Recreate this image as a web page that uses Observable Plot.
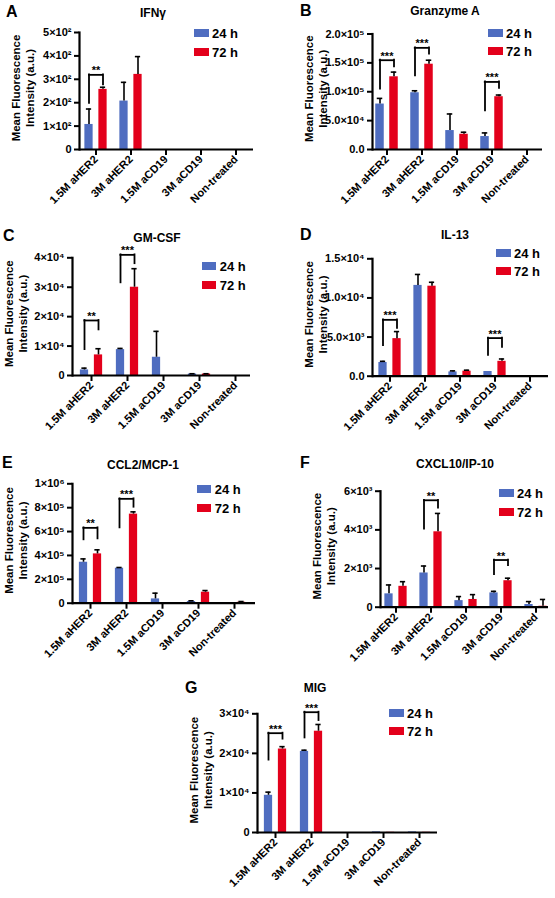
<!DOCTYPE html>
<html><head><meta charset="utf-8">
<script src="https://cdn.jsdelivr.net/npm/d3@7"></script>
<script src="https://cdn.jsdelivr.net/npm/@observablehq/plot@0.6"></script>
<style>
body{margin:0;background:#fff;}
#wrap{position:relative;width:555px;height:898px;background:#fff;font-family:"Liberation Sans",Arial,sans-serif;font-weight:bold;color:#000;overflow:hidden;}
.abs{position:absolute;white-space:nowrap;line-height:1;}
</style></head><body><div id="wrap"></div>
<script>
// ---------- data ----------
const categories = ["1.5M aHER2", "3M aHER2", "1.5M aCD19", "3M aCD19", "Non-treated"];
const timepoints = ["24 h", "72 h"];

// A: IFNγ
const ifng24 = [107, 207, 0, 0, 0];
const ifng24Err = [66, 80, 0, 0, 0];
const ifng72 = [257, 321, 0, 0, 0];
const ifng72Err = [9, 76, 0, 0, 0];
const ifngSig = [{cat: "1.5M aHER2", left: 197, right: 276, top: 319, label: "**"}];
const ifngTicks = [0, 100, 200, 300, 400, 500];
const ifngTickLabels = ["0", "1×10²", "2×10²", "3×10²", "4×10²", "5×10²"];

// B: Granzyme A
const gzm24 = [78700, 98300, 32800, 22400, 0];
const gzm24Err = [9800, 3400, 28700, 6300, 0];
const gzm72 = [125900, 147700, 26400, 91400, 0];
const gzm72Err = [8100, 6900, 3500, 2900, 0];
const gzmSig = [
  {cat: "1.5M aHER2", left: 104600, right: 143000, top: 154600, label: "***"},
  {cat: "3M aHER2", left: 127600, right: 165000, top: 176000, label: "***"},
  {cat: "3M aCD19", left: 67000, right: 105700, top: 117000, label: "***"}
];
const gzmTicks = [0, 50000, 100000, 150000, 200000];
const gzmTickLabels = ["0.0", "5.0×10⁴", "1.0×10⁵", "1.5×10⁵", "2.0×10⁵"];

// C: GM-CSF
const gmcsf24 = [1900, 8800, 6200, 500, 0];
const gmcsf24Err = [600, 400, 8800, 100, 0];
const gmcsf72 = [7000, 30000, 0, 500, 0];
const gmcsf72Err = [2100, 6300, 0, 100, 0];
const gmcsfSig = [
  {cat: "1.5M aHER2", left: 8800, right: 15500, top: 18700, label: "**"},
  {cat: "3M aHER2", left: 31500, right: 38000, top: 41000, label: "***"}
];
const gmcsfTicks = [0, 10000, 20000, 30000, 40000];
const gmcsfTickLabels = ["0", "1×10⁴", "2×10⁴", "3×10⁴", "4×10⁴"];

// D: IL-13
const il13_24 = [1750, 11600, 550, 600, 0];
const il13_24Err = [150, 1400, 130, 0, 0];
const il13_72 = [4800, 11500, 640, 1900, 0];
const il13_72Err = [900, 500, 130, 300, 0];
const il13Sig = [
  {cat: "1.5M aHER2", left: 3900, right: 6100, top: 7200, label: "***"},
  {cat: "3M aCD19", left: 2650, right: 3700, top: 4870, label: "***"}
];
const il13Ticks = [0, 5000, 10000, 15000];
const il13TickLabels = ["0.0", "5.0×10³", "1.0×10⁴", "1.5×10⁴"];

// E: CCL2/MCP-1
const ccl2_24 = [343000, 293000, 36000, 14000, 3000];
const ccl2_24Err = [28000, 6000, 48000, 6000, 0];
const ccl2_72 = [413000, 746000, 0, 92000, 8000];
const ccl2_72Err = [34000, 19000, 0, 14000, 6000];
const ccl2Sig = [
  {cat: "1.5M aHER2", left: 531000, right: 539000, top: 631000, label: "**"},
  {cat: "3M aHER2", left: 631000, right: 804000, top: 874000, label: "***"}
];
const ccl2Ticks = [0, 200000, 400000, 600000, 800000, 1000000];
const ccl2TickLabels = ["0", "2×10⁵", "4×10⁵", "6×10⁵", "8×10⁵", "1×10⁶"];

// F: CXCL10/IP-10
const cxcl10_24 = [690, 1770, 340, 740, 140];
const cxcl10_24Err = [460, 360, 210, 80, 150];
const cxcl10_72 = [1080, 3900, 400, 1370, 50];
const cxcl10_72Err = [240, 950, 250, 130, 350];
const cxcl10Sig = [
  {cat: "3M aHER2", left: 4040, right: 5120, top: 5530, label: "**"},
  {cat: "3M aCD19", left: 1680, right: 2150, top: 2440, label: "**"}
];
const cxcl10Ticks = [0, 2000, 4000, 6000];
const cxcl10TickLabels = ["0", "2×10³", "4×10³", "6×10³"];

// G: MIG
const mig24 = [9400, 20500, 0, 150, 150];
const mig24Err = [800, 300, 0, 0, 0];
const mig72 = [21100, 25600, 0, 50, 50];
const mig72Err = [600, 1700, 0, 0, 0];
const migSig = [
  {cat: "1.5M aHER2", left: 18300, right: 23600, top: 25100, label: "***"},
  {cat: "3M aHER2", left: 23900, right: 28300, top: 30400, label: "***"}
];
const migTicks = [0, 10000, 20000, 30000];
const migTickLabels = ["0", "1×10⁴", "2×10⁴", "3×10⁴"];

// ---------- layout / style ----------
const BLUE = "#4f6dc0", RED = "#e3001b";
const FONT = "'Liberation Sans', Arial, sans-serif";

const panels = [
  {letter: "A", title: "IFNγ", v24: ifng24, e24: ifng24Err, v72: ifng72, e72: ifng72Err, sig: ifngSig, ticks: ifngTicks, tickLabels: ifngTickLabels,
   box: [0, 0, 277, 225], axisX: 79, axisEnd: 253, yTop: 32, yZero: 149, c0: 94, bw: 35.75, titleXY: [153, 13], letterXY: [6, 12], legendXY: [194, 33]},
  {letter: "B", title: "Granzyme A", v24: gzm24, e24: gzm24Err, v72: gzm72, e72: gzm72Err, sig: gzmSig, ticks: gzmTicks, tickLabels: gzmTickLabels,
   box: [277, 0, 278, 225], axisX: 372, axisEnd: 542, yTop: 33.5, yZero: 149, c0: 385, bw: 35.5, titleXY: [445, 11], letterXY: [300, 10.5], legendXY: [488, 32.5]},
  {letter: "C", title: "GM-CSF", v24: gmcsf24, e24: gmcsf24Err, v72: gmcsf72, e72: gmcsf72Err, sig: gmcsfSig, ticks: gmcsfTicks, tickLabels: gmcsfTickLabels,
   box: [0, 225, 277, 225], axisX: 72, axisEnd: 250, yTop: 257.3, yZero: 375, c0: 89, bw: 36.75, titleXY: [157, 238], letterXY: [3, 236], legendXY: [201.7, 266]},
  {letter: "D", title: "IL-13", v24: il13_24, e24: il13_24Err, v72: il13_72, e72: il13_72Err, sig: il13Sig, ticks: il13Ticks, tickLabels: il13TickLabels,
   box: [277, 225, 278, 225], axisX: 372, axisEnd: 548, yTop: 258.3, yZero: 375.7, c0: 388, bw: 35.75, titleXY: [455, 235], letterXY: [300, 235], legendXY: [496, 252.5]},
  {letter: "E", title: "CCL2/MCP-1", v24: ccl2_24, e24: ccl2_24Err, v72: ccl2_72, e72: ccl2_72Err, sig: ccl2Sig, ticks: ccl2Ticks, tickLabels: ccl2TickLabels,
   box: [0, 450, 277, 225], axisX: 72, axisEnd: 255, yTop: 483.3, yZero: 602.7, c0: 88, bw: 36.75, titleXY: [143, 465], letterXY: [2, 463], legendXY: [196.7, 489]},
  {letter: "F", title: "CXCL10/IP-10", v24: cxcl10_24, e24: cxcl10_24Err, v72: cxcl10_72, e72: cxcl10_72Err, sig: cxcl10Sig, ticks: cxcl10Ticks, tickLabels: cxcl10TickLabels,
   box: [277, 450, 278, 225], axisX: 380, axisEnd: 548, yTop: 490.7, yZero: 606.7, c0: 394, bw: 35.75, titleXY: [455, 464], letterXY: [300, 463], legendXY: [499, 493]},
  {letter: "G", title: "MIG", v24: mig24, e24: mig24Err, v72: mig72, e72: mig72Err, sig: migSig, ticks: migTicks, tickLabels: migTickLabels,
   box: [140, 672, 300, 226], axisX: 257, axisEnd: 437, yTop: 713.3, yZero: 832, c0: 273, bw: 36.75, titleXY: [315, 688], letterXY: [185, 688], legendXY: [389, 712.5]}
];

const wrap = document.getElementById("wrap");

function addText(txt, x, y, size, center) {
  const d = document.createElement("div");
  d.className = "abs";
  d.textContent = txt;
  d.style.left = x + "px";
  d.style.top = y + "px";
  d.style.fontSize = size + "px";
  d.style.transform = center ? "translate(-50%,-50%)" : "translate(0,-50%)";
  wrap.appendChild(d);
}
function addSwatch(color, x, y) {
  const d = document.createElement("div");
  d.className = "abs";
  d.style.left = x + "px";
  d.style.top = (y - 4) + "px";
  d.style.width = "14.5px";
  d.style.height = "8px";
  d.style.background = color;
  wrap.appendChild(d);
}

function makePanel(p) {
  const [bx, by, bW, bH] = p.box;
  const bw = p.bw;
  const x0 = p.c0 - bw / 2 - bx;
  const rows = (vals, errs, t) => categories.map((c, i) => ({cat: c, time: t, v: vals[i], e: errs[i]}));
  const d24 = rows(p.v24, p.e24, timepoints[0]);
  const d72 = rows(p.v72, p.e72, timepoints[1]);
  const off = 7, half = 4.5, cap = 3;
  const ew = 1.6;
  const e24 = d24.filter(d => d.e > 0), e72 = d72.filter(d => d.e > 0);

  const chart = Plot.plot({
    width: bW, height: bH,
    marginLeft: p.axisX - bx, marginRight: bx + bW - p.axisEnd,
    marginTop: p.yTop - by, marginBottom: by + bH - p.yZero,
    style: {fontFamily: FONT, fontWeight: "bold", fontSize: "11px", color: "#000", background: "transparent", overflow: "visible"},
    x: {type: "band", domain: categories, range: [x0, x0 + 5 * bw], padding: 0},
    y: {domain: [0, p.ticks[p.ticks.length - 1]], nice: false},
    marks: [
      Plot.barY(d24, {x: "cat", y: "v", fill: BLUE, insetLeft: bw / 2 - off - half, insetRight: bw / 2 + off - half}),
      Plot.barY(d72, {x: "cat", y: "v", fill: RED, insetLeft: bw / 2 + off - half, insetRight: bw / 2 - off - half}),
      Plot.ruleX(e24, {x: "cat", y1: "v", y2: d => d.v + d.e, dx: -off, stroke: "#000", strokeWidth: ew}),
      Plot.tickY(e24, {x: "cat", y: d => d.v + d.e, insetLeft: bw / 2 - off - cap, insetRight: bw / 2 + off - cap, stroke: "#000", strokeWidth: ew}),
      Plot.ruleX(e72, {x: "cat", y1: "v", y2: d => d.v + d.e, dx: off, stroke: "#000", strokeWidth: ew}),
      Plot.tickY(e72, {x: "cat", y: d => d.v + d.e, insetLeft: bw / 2 + off - cap, insetRight: bw / 2 - off - cap, stroke: "#000", strokeWidth: ew}),
      // significance brackets
      Plot.ruleX(p.sig, {x: "cat", y1: "left", y2: "top", dx: -off, stroke: "#000", strokeWidth: 1.8, strokeLinecap: "square"}),
      Plot.ruleX(p.sig, {x: "cat", y1: "right", y2: "top", dx: off, stroke: "#000", strokeWidth: 1.8, strokeLinecap: "square"}),
      Plot.ruleY(p.sig, {x1: "cat", x2: "cat", y: "top", insetLeft: bw / 2 - off, insetRight: bw / 2 - off, stroke: "#000", strokeWidth: 1.8, strokeLinecap: "square"}),
      Plot.text(p.sig, {x: "cat", y: "top", text: "label", dy: -4, fontSize: 11, fontWeight: "bold", fill: "#000"}),
      // axes
      Plot.ruleY([0], {stroke: "#000", strokeWidth: 2.2}),
      Plot.frame({anchor: "left", stroke: "#000", strokeWidth: 2.2}),
      Plot.axisY({ticks: p.ticks, tickFormat: d => p.tickLabels[p.ticks.indexOf(d)], tickSize: 5, tickPadding: 3, strokeWidth: 2, label: null, fontSize: 11}),
      Plot.axisX({tickRotate: -45, tickSize: 6, tickPadding: 2, strokeWidth: 2, label: null, fontSize: 11}),
      Plot.text(["Mean Fluorescence"], {frameAnchor: "left", textAnchor: "middle", rotate: -90, dx: -63, dy: -3, fontSize: 11.5, fontWeight: "bold", fill: "#000"}),
      Plot.text(["Intensity (a.u.)"], {frameAnchor: "left", textAnchor: "middle", rotate: -90, dx: -49.5, dy: -3, fontSize: 11.5, fontWeight: "bold", fill: "#000"})
    ]
  });

  const holder = document.createElement("div");
  holder.className = "abs";
  holder.style.left = bx + "px";
  holder.style.top = by + "px";
  holder.style.width = bW + "px";
  holder.style.height = bH + "px";
  holder.appendChild(chart);
  wrap.appendChild(holder);

  addText(p.title, p.titleXY[0], p.titleXY[1], 12, true);
  addText(p.letter, p.letterXY[0], p.letterXY[1], 16, false);
  const [lx, ly] = p.legendXY;
  addSwatch(BLUE, lx, ly);
  addSwatch(RED, lx, ly + 18.5);
  addText(timepoints[0], lx + 18, ly, 13, false);
  addText(timepoints[1], lx + 18, ly + 18.5, 13, false);
}

panels.forEach(makePanel);
</script></body></html>
